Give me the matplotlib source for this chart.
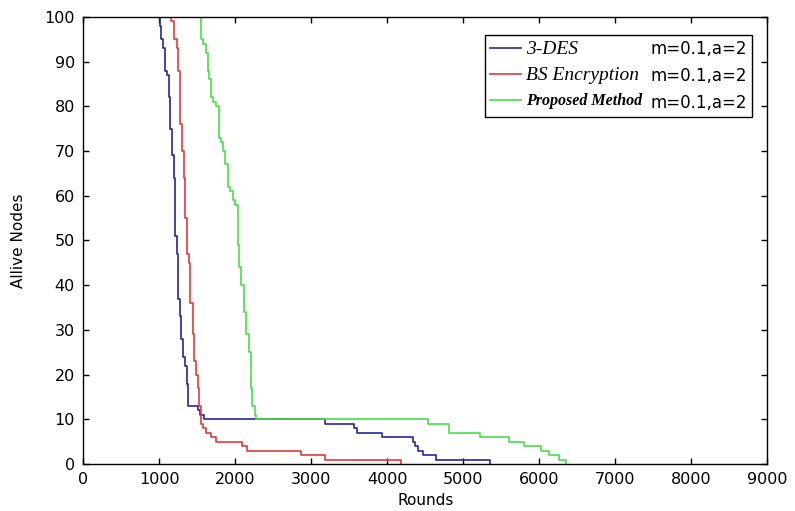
import matplotlib
matplotlib.use('Agg')
import matplotlib.pyplot as plt
from matplotlib.lines import Line2D

plt.rcParams['font.family'] = 'DejaVu Sans'

# step curves (rounds, alive nodes)
des_x = [982, 1003, 1025, 1047, 1069, 1100, 1121, 1143, 1169, 1187, 1208, 1230,
         1252, 1274, 1291, 1309, 1344, 1361, 1374, 1505, 1536, 1592,
         3185, 3556, 3600, 3927, 4342, 4370, 4400, 4472, 4647, 5345]
des_y = [100, 98, 95, 93, 88, 87, 82, 75, 69, 64, 51, 47,
         37, 33, 28, 24, 22, 18, 13, 12, 11, 10,
         9, 8, 7, 6, 5, 4, 3, 2, 1, 0]

bs_x = [1000, 1156, 1187, 1230, 1252, 1274, 1300, 1322, 1344, 1361, 1387, 1409,
        1440, 1461, 1483, 1505, 1527, 1549, 1580, 1614, 1680, 1745,
        2094, 2160, 2858, 3185, 4180]
bs_y = [100, 99, 95, 93, 88, 76, 70, 64, 55, 47, 45, 36,
        29, 23, 20, 17, 13, 9, 8, 7, 6, 5,
        4, 3, 2, 1, 0]

pm_x = [1527, 1549, 1580, 1614, 1636, 1658, 1680, 1710, 1745, 1780, 1810, 1841,
        1867, 1898, 1929, 1963, 1998, 2029, 2050, 2081, 2116, 2147, 2182, 2203,
        2225, 2256, 2269, 4540, 4807, 5215, 5607, 5803, 6021, 6131, 6262, 6348]
pm_y = [100, 95, 94, 92, 88, 86, 82, 81, 80, 73, 72, 70,
        67, 62, 61, 59, 58, 49, 44, 40, 34, 29, 25, 17,
        13, 11, 10, 9, 7, 6, 5, 4, 3, 2, 1, 0]

names = ['3-DES', 'BS Encryption', 'Proposed Method']
params = 'm=0.1,a=2'
colors = ['#25259e', '#e03a3a', '#45e045']

fig = plt.figure(figsize=(7.95, 5.11), dpi=100)
ax = fig.add_axes([0.1048, 0.092, 0.8604, 0.875])

l1, = ax.step(des_x, des_y, where='post', color=colors[0], lw=1.2)
l2, = ax.step(bs_x, bs_y, where='post', color=colors[1], lw=1.2)
l3, = ax.step(pm_x, pm_y, where='post', color=colors[2], lw=1.2)

ax.set_xlim(0, 9000)
ax.set_ylim(0, 100)
ax.set_xticks(range(0, 9001, 1000))
ax.set_yticks(range(0, 101, 10))
ax.tick_params(direction='in', top=True, right=True, length=4, width=1,
               labelsize=11.5, pad=6)
for s in ax.spines.values():
    s.set_linewidth(1)
ax.set_xlabel('Rounds', fontsize=11, labelpad=4)
ax.set_ylabel('Allive Nodes', fontsize=11, labelpad=13)

blank = [Line2D([], [], color='none') for _ in range(3)]
leg = ax.legend([l1, l2, l3] + blank, names + [params] * 3, ncol=2,
                loc='upper right', bbox_to_anchor=(0.99, 0.978),
                fancybox=False, edgecolor='black', framealpha=1,
                handlelength=1.9, handletextpad=0.3, columnspacing=-1.7,
                borderpad=0.3, labelspacing=0.55, fontsize=12)
leg.get_frame().set_linewidth(1)
texts = leg.get_texts()
for i, size in enumerate([14, 14, 11.5]):
    texts[i].set_fontfamily('Liberation Serif')
    texts[i].set_fontstyle('italic')
    texts[i].set_fontsize(size)
texts[2].set_fontweight('bold')

plt.savefig('out.png', dpi=100)
